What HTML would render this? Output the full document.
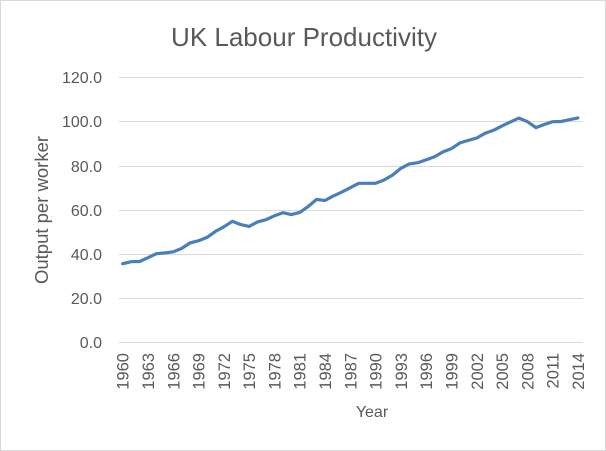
<!DOCTYPE html>
<html><head><meta charset="utf-8"><style>
html,body{margin:0;padding:0;background:#fff}
svg{display:block}
text{font-family:"Liberation Sans",sans-serif;fill:#595959}
</style></head><body>
<svg id="s" width="606" height="451" xmlns="http://www.w3.org/2000/svg">
<rect x="0.5" y="0.5" width="605" height="450" fill="#fff" stroke="#d9d9d9"/>
<text x="304" y="46" font-size="26" text-anchor="middle">UK Labour Productivity</text>
<g stroke="#d9d9d9" stroke-width="1">
<line x1="119" x2="583" y1="77.5" y2="77.5"/>
<line x1="119" x2="583" y1="121.5" y2="121.5"/>
<line x1="119" x2="583" y1="166.5" y2="166.5"/>
<line x1="119" x2="583" y1="210.5" y2="210.5"/>
<line x1="119" x2="583" y1="254.5" y2="254.5"/>
<line x1="119" x2="583" y1="298.5" y2="298.5"/>
<line x1="119" x2="583" y1="342.5" y2="342.5"/>
</g>
<g font-size="16" text-anchor="end">
<text x="102" y="83">120.0</text>
<text x="102" y="127">100.0</text>
<text x="102" y="172">80.0</text>
<text x="102" y="216">60.0</text>
<text x="102" y="260">40.0</text>
<text x="102" y="304">20.0</text>
<text x="102" y="348">0.0</text>
</g>
<text transform="translate(48,210) rotate(-90)" font-size="18.5" text-anchor="middle">Output per worker</text>
<text x="372" y="417" font-size="16" text-anchor="middle">Year</text>
<g id="xl" font-size="16.5" text-anchor="end"></g>
<polyline id="ln" fill="none" stroke="#4a7ebb" stroke-width="3.2" stroke-linejoin="round" stroke-linecap="round"/>
</svg>
<script>
var v=[35.6,36.5,36.6,38.3,40.1,40.5,41,42.5,45,46,47.5,50.2,52.3,54.8,53.3,52.5,54.5,55.5,57.3,58.7,57.8,58.8,61.5,64.7,64.2,66.3,68,70,72,72,72,73.5,75.7,78.8,80.8,81.3,82.7,84,86.2,87.7,90.3,91.4,92.5,94.7,96,98,99.8,101.5,100,97.2,98.6,99.9,100,100.8,101.6];
var p=[];for(var i=0;i<v.length;i++){p.push((122.7+i*8.43).toFixed(1)+","+(342.3-v[i]*2.2085).toFixed(1));}
document.getElementById("ln").setAttribute("points",p.join(" "));
var g=document.getElementById("xl"),h="";
for(var i=0;i<=54;i+=3){var x=122.7+i*8.43+6;h+='<text transform="translate('+x.toFixed(1)+',353) rotate(-90)">'+(1960+i)+'</text>';}
g.innerHTML=h;
</script>
</body></html>
